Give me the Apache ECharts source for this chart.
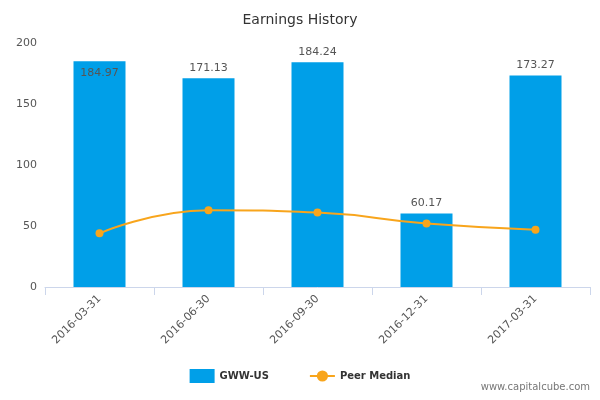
<!DOCTYPE html>
<html><head><meta charset="utf-8">
<script src="https://cdn.jsdelivr.net/npm/echarts@6/dist/echarts.min.js"></script>
<style>html,body{margin:0;padding:0;background:#fff}#c{width:600px;height:400px}</style>
</head><body><div id="c"></div>
<script>
const categories = ['2016-03-31','2016-06-30','2016-09-30','2016-12-31','2017-03-31'];
const gwwValues = [184.97,171.13,184.24,60.17,173.27];
const peerMedian = [44,63,61,52,47];
const yTicks = [0,50,100,150,200];

const chart = echarts.init(document.getElementById('c'));
chart.setOption({
  animation:false,
  title:{text:'Earnings History',left:'center',top:8,textStyle:{fontFamily:'DejaVu Sans',fontSize:14,fontWeight:'normal',color:'#333'}},
  grid:{left:45,right:10,top:43,bottom:113},
  legend:{bottom:12,left:'center',itemGap:40,textStyle:{fontFamily:'DejaVu Sans',fontSize:10,fontWeight:'bold',color:'#333'},
    data:[{name:'GWW-US',icon:'rect'},{name:'Peer Median'}]},
  graphic:[{type:'text',right:10,bottom:8,style:{text:'www.capitalcube.com',fill:'#777',font:'10px DejaVu Sans'}}],
  xAxis:{type:'category',data:categories,
    axisLine:{lineStyle:{color:'#ccd6eb'}},axisTick:{show:true,lineStyle:{color:'#ccd6eb'},length:8},
    axisLabel:{rotate:45,color:'#555',fontFamily:'DejaVu Sans',fontSize:11,margin:10}},
  yAxis:{type:'value',min:0,max:yTicks[yTicks.length-1],interval:50,
    axisLabel:{color:'#555',fontFamily:'DejaVu Sans',fontSize:11},
    splitLine:{show:false},axisLine:{show:false}},
  series:[
    {name:'GWW-US',type:'bar',barWidth:52,itemStyle:{color:'#009fe8'},
     data:gwwValues.map((v,i)=>({value:v,label:i===0?{position:'insideTop',distance:6}:{}})),
     label:{show:true,position:'top',color:'#555',fontFamily:'DejaVu Sans',fontSize:11}},
    {name:'Peer Median',type:'line',smooth:true,data:peerMedian,symbol:'circle',symbolSize:8,
     itemStyle:{color:'#f8a51c'},lineStyle:{color:'#f8a51c',width:2}}
  ]
});
</script></body></html>
